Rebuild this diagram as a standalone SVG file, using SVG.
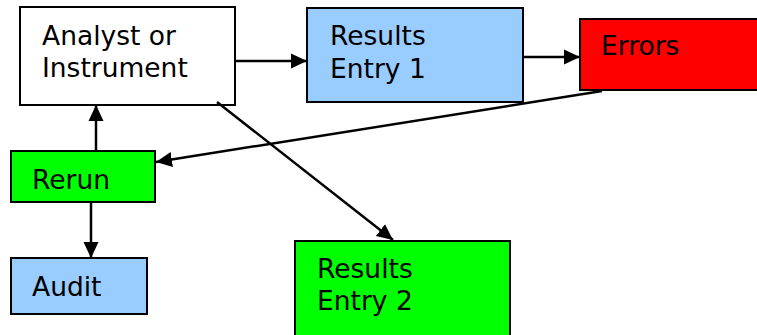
<svg xmlns="http://www.w3.org/2000/svg" width="757" height="335" viewBox="0 0 757 335">
<style>
.box{stroke:#000;stroke-width:2}
.lbl{font-family:"DejaVu Sans",Verdana,sans-serif;font-size:26.5px;fill:#000}
.edge{stroke:#000;stroke-width:2.5;fill:none;marker-end:url(#ah)}
</style>
<defs>
<marker id="ah" markerUnits="userSpaceOnUse" markerWidth="17" markerHeight="17" refX="16" refY="8" orient="auto">
<path d="M0,0.5 L16,8 L0,15.5 Z" fill="#000"/>
</marker>
</defs>
<rect width="757" height="335" fill="#fff"/>
<g id="analyst">
<rect class="box" x="20" y="7" width="215" height="98" fill="#fff"/>
<text class="lbl" x="42" y="45">Analyst or</text>
<text class="lbl" x="42" y="77">Instrument</text>
</g>
<g id="results1">
<rect class="box" x="307" y="8" width="216" height="94" fill="#99CCFF"/>
<text class="lbl" x="330" y="45">Results</text>
<text class="lbl" x="330" y="78">Entry 1</text>
</g>
<g id="errors">
<rect class="box" x="580" y="19" width="180" height="71" fill="#FF0000"/>
<text class="lbl" x="601" y="55">Errors</text>
</g>
<g id="rerun">
<rect class="box" x="11" y="151" width="144" height="51" fill="#00FF00"/>
<text class="lbl" x="32" y="189">Rerun</text>
</g>
<g id="audit">
<rect class="box" x="11" y="258" width="136" height="56" fill="#99CCFF"/>
<text class="lbl" x="32" y="296">Audit</text>
</g>
<g id="results2">
<rect class="box" x="295" y="241" width="215" height="100" fill="#00FF00"/>
<text class="lbl" x="317" y="278">Results</text>
<text class="lbl" x="317" y="310">Entry 2</text>
</g>
<g id="connectors">
<line class="edge" x1="235" y1="61" x2="307" y2="61"/>
<line class="edge" x1="523" y1="57" x2="580" y2="57"/>
<line class="edge" x1="602" y1="91" x2="156" y2="162"/>
<line class="edge" x1="96" y1="151" x2="96" y2="105"/>
<line class="edge" x1="91" y1="202" x2="91" y2="258"/>
<line class="edge" x1="217" y1="102" x2="393" y2="240"/>
</g>
</svg>
